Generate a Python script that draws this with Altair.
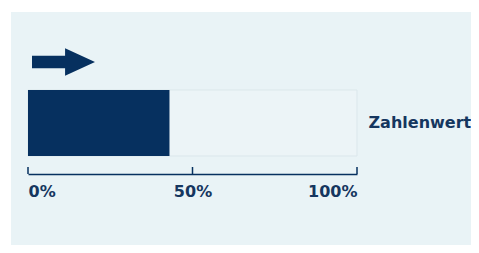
import altair as alt
import pandas as pd

# --- data ---
categories = ["Zahlenwert"]
values = [43]
track = [100]
tick_values = [0, 50, 100]

NAVY = "#06305f"
TEXT = "#15365f"
BG = "#e9f3f6"

df = pd.DataFrame({"kategorie": categories, "wert": values, "voll": track})
ticks_df = pd.DataFrame({"tick": tick_values})

PW, PH = 329, 66
PAD_L, PAD_T = 20, 82
TOTAL_W, TOTAL_H = 463, 237

xscale = alt.Scale(domain=[0, 100], nice=False)
yscale = alt.Scale(paddingInner=0, paddingOuter=0)

background = alt.Chart(df).mark_rect(color=BG).encode(
    x=alt.value(-17), x2=alt.value(500), y=alt.value(-78), y2=alt.value(300)
)

track_bar = alt.Chart(df).mark_bar(
    fill="#ecf4f7", stroke="#dbe7eb", strokeWidth=1
).encode(
    x=alt.X("voll:Q", scale=xscale,
            axis=alt.Axis(values=tick_values, labelExpr="datum.value + '%'",
                          offset=18, domainColor=NAVY, domainWidth=1.5,
                          ticks=False, grid=False, title=None, zindex=2,
                          labelFont="DejaVu Sans", labelFontWeight="bold",
                          labelFontSize=16, labelColor=TEXT, labelPadding=9,
                          labelFlush=True)),
    y=alt.Y("kategorie:N", scale=yscale,
            axis=alt.Axis(orient="right", title=None, ticks=False, domain=False,
                          grid=False, zindex=2, labelFont="DejaVu Sans",
                          labelFontWeight="bold", labelFontSize=16,
                          labelColor=TEXT, labelPadding=11, labelLimit=300)),
)

value_bar = alt.Chart(df).mark_bar(color=NAVY).encode(
    x=alt.X("wert:Q", scale=xscale),
    y=alt.Y("kategorie:N", scale=yscale),
)

tick_rules = alt.Chart(ticks_df).mark_rule(color=NAVY, strokeWidth=1.5).encode(
    x=alt.X("tick:Q", scale=xscale),
    y=alt.value(77), y2=alt.value(84),
)

arrow_path = "M -1 -0.2 L 0.05 -0.2 L 0.05 -0.44 L 1 0 L 0.05 0.44 L 0.05 0.2 L -1 0.2 Z"
arrow = alt.Chart(df).mark_point(
    shape=arrow_path, filled=True, opacity=1, color=NAVY, size=3969, strokeWidth=0
).encode(
    x=alt.value(35.5), y=alt.value(-28)
)

chart = alt.layer(background, track_bar, value_bar, tick_rules, arrow).properties(
    width=PW, height=PH,
    autosize=alt.AutoSizeParams(type="none"),
    padding={"left": PAD_L, "top": PAD_T,
             "right": TOTAL_W - PAD_L - PW, "bottom": TOTAL_H - PAD_T - PH},
    background="white",
).configure_view(stroke=None)

chart.save("out.html", embed_options={"renderer": "svg", "actions": False})
